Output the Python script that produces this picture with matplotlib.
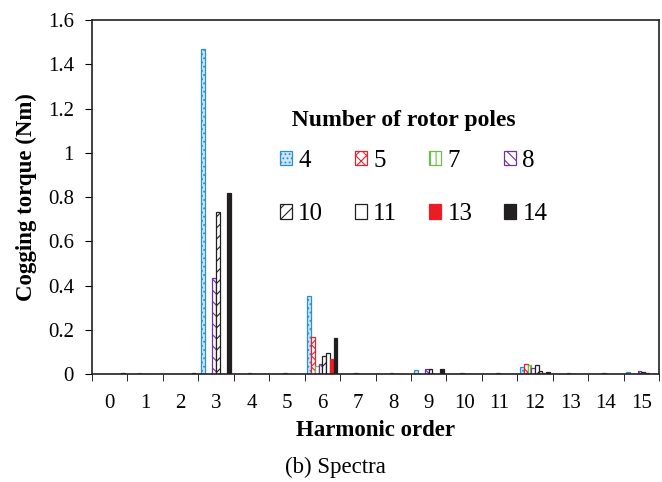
import numpy as np
import matplotlib
matplotlib.use("Agg")
import matplotlib.pyplot as plt
from matplotlib.ticker import FormatStrFormatter

plt.rcParams['font.family'] = ['Liberation Serif', 'DejaVu Serif']
plt.rcParams['hatch.linewidth'] = 0.8

# harmonic orders 0..15
harmonics = list(range(16))
poles = ['4', '5', '7', '8', '10', '11', '13', '14']

# cogging torque amplitude (Nm) per harmonic, one list per rotor pole number
p4 = [0.0, 0.0, 0.0, 1.47, 0.0, 0.0, 0.354, 0.0, 0.0, 0.018, 0.0, 0.0, 0.03, 0.0, 0.0, 0.011]
p5 = [0.002, 0.002, 0.002, 0.002, 0.002, 0.002, 0.167, 0.002, 0.002, 0.002, 0.002, 0.002, 0.045, 0.002, 0.002, 0.002]
p7 = [0.0, 0.004, 0.0, 0.0, 0.0, 0.0, 0.036, 0.0, 0.0, 0.0, 0.0, 0.0, 0.042, 0.0, 0.0, 0.0]
p8 = [0.0, 0.0, 0.0, 0.434, 0.004, 0.004, 0.045, 0.004, 0.004, 0.024, 0.004, 0.004, 0.026, 0.004, 0.004, 0.015]
p10 = [0.002, 0.0, 0.0, 0.733, 0.0, 0.0, 0.083, 0.0, 0.0, 0.024, 0.0, 0.0, 0.04, 0.0, 0.0, 0.008]
p11 = [0.0, 0.0, 0.0, 0.0, 0.0, 0.0, 0.095, 0.0, 0.0, 0.0, 0.0, 0.0, 0.015, 0.0, 0.0, 0.004]
p13 = [0.0, 0.0, 0.0, 0.0, 0.0, 0.0, 0.068, 0.0, 0.0, 0.0, 0.0, 0.0, 0.005, 0.0, 0.0, 0.0]
p14 = [0.003, 0.0, 0.003, 0.818, 0.0, 0.0, 0.164, 0.0, 0.0, 0.022, 0.0, 0.0, 0.01, 0.0, 0.0, 0.0]

series = [p4, p5, p7, p8, p10, p11, p13, p14]

# styles: (facecolor, edgecolor, hatch)
estilos = [
    ('#cde6f8', '#2a8fd6', '....'),
    ('white', '#e8202a', 'xxx'),
    ('white', '#6dbd4c', '|||'),
    ('white', '#7030a0', '\\\\\\'),
    ('white', '#231f20', '///'),
    ('white', '#231f20', ''),
    ('#ed1c24', '#ed1c24', ''),
    ('#231f20', '#231f20', ''),
]

fig = plt.figure(figsize=(6.62, 4.82), dpi=100)
ax = fig.add_axes([0.139, 0.224, 0.8565, 0.7345])

x = np.arange(len(harmonics))
w = 0.105
barras = []
for i, (vals, (fc, ec, h)) in enumerate(zip(series, estilos)):
    b = ax.bar(x + (i - 3.5) * w, vals, width=w, facecolor=fc, edgecolor=ec,
               hatch=h, linewidth=0.9, label=poles[i])
    barras.append(b)

ax.set_xlim(-0.5, 15.5)
ax.set_ylim(0, 1.6)
ax.set_yticks(np.arange(0, 1.61, 0.2))
ax.yaxis.set_major_formatter(FormatStrFormatter('%g'))
ax.set_xticks(x)
ax.set_xticks(np.arange(-0.5, 16, 1), minor=True)
ax.tick_params(axis='x', which='major', length=0, labelsize=15, pad=14.5)
ax.tick_params(axis='x', which='minor', length=5, direction='out')
ax.tick_params(axis='y', labelsize=15, length=5, direction='out', pad=8)
for s in ax.spines.values():
    s.set_linewidth(1.2)
    s.set_color('#231f20')

ax.set_ylabel('Cogging torque (Nm)', fontsize=16.5, fontweight='bold', labelpad=8)
ax.set_xlabel('Harmonic order', fontsize=16.5, fontweight='bold', labelpad=5)

# legend filled column by column, so reorder to get 4 5 7 8 / 10 11 13 14 rows
orden = [0, 4, 1, 5, 2, 6, 3, 7]
leg = ax.legend([barras[k] for k in orden], [poles[k] for k in orden],
                ncol=4, frameon=False, title='  Number of rotor poles',
                loc='upper left', bbox_to_anchor=(0.291, 0.81),
                fontsize=18, handlelength=0.5, handleheight=0.5,
                handletextpad=0.25, columnspacing=1.25, labelspacing=1.25)
leg.get_title().set_fontweight('bold')
leg.get_title().set_fontsize(17)
leg._legend_box.align = 'left'
leg._legend_box.sep = 14

fig.text(0.506, 0.031, '(b) Spectra', fontsize=16.5, ha='center', va='center')

fig.savefig('out.png', dpi=100)
